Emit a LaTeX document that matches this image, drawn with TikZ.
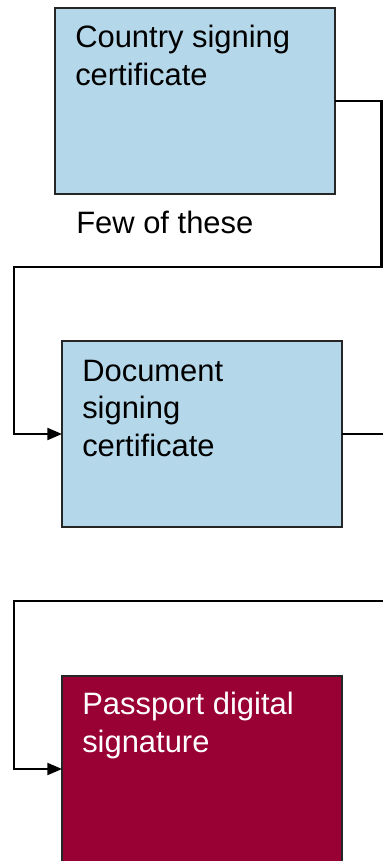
\documentclass[tikz,border=0pt]{standalone}
\usepackage{fontspec}
\setmainfont{Liberation Sans}
\usetikzlibrary{arrows.meta}
\definecolor{certblue}{HTML}{B4D7EA}
\definecolor{sigred}{HTML}{990033}
\begin{document}
\begin{tikzpicture}[x=0.75pt,y=-0.75pt,
  box/.style={draw=black!85,line width=1.5pt,minimum width=210pt,minimum height=139.5pt,anchor=north west,inner sep=0pt,outer sep=0pt},
  lbl/.style={anchor=base west,inner sep=0pt,align=left,font=\fontsize{23.2pt}{28pt}\selectfont},
  wire/.style={line width=1.6pt,black},
  arr/.style={wire,-{Triangle[length=11pt,width=9pt]}}]
\useasboundingbox (0,0) rectangle (383,861);
\fill[white] (0,0) rectangle (383,861);
\node[box,fill=certblue] (csc) at (55,8) {};
\node[box,fill=certblue] (dsc) at (62,341) {};
\node[box,fill=sigred] (pds) at (62,676) {};
\node[lbl] (t1) at (75,85) {Country signing\\certificate};
\node[lbl] (t2) at (76,233) {Few of these};
\node[lbl] (t3) at (82,456) {Document\\signing\\certificate};
\node[lbl,text=white] (t4) at (82,752) {Passport digital\\signature};
\coordinate (e2) at (383,434);
\coordinate (s3) at (383,601);
\draw[arr] (csc.east) -| (381.5,267) -- (14,267) |- (dsc.west);
\draw[wire] (dsc.east) -- (e2);
\draw[arr] (s3) -- (14,601) |- (pds.west);
\end{tikzpicture}
\end{document}
